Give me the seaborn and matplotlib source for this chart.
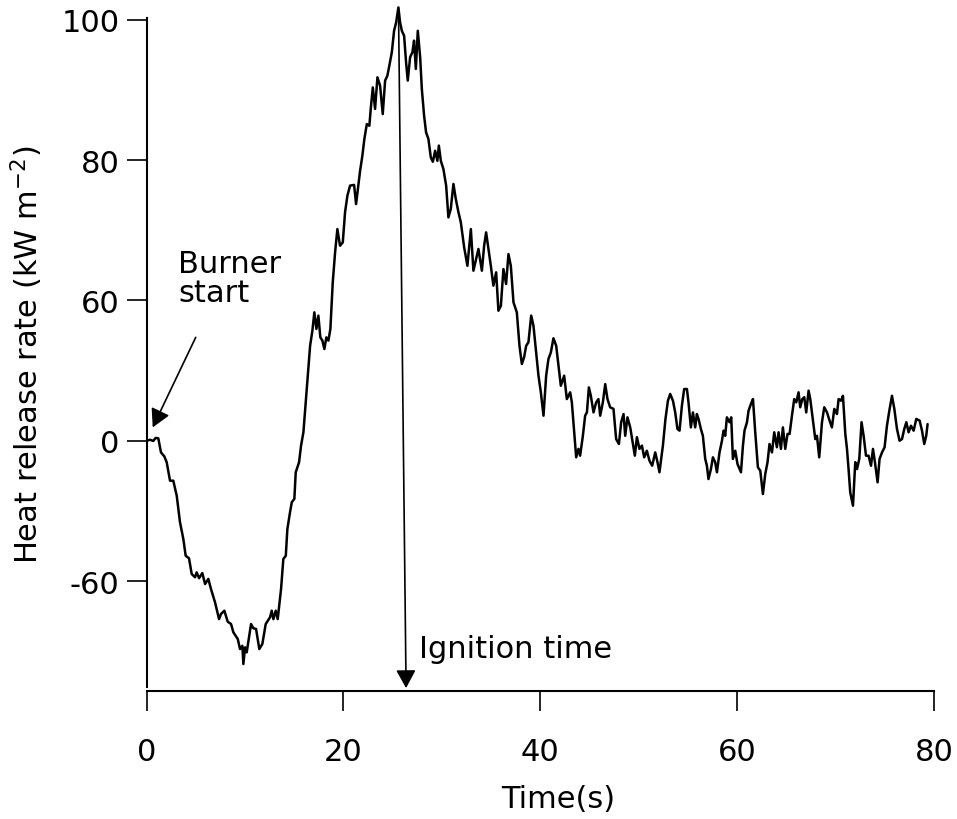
import matplotlib
matplotlib.use("Agg")
import matplotlib.pyplot as plt
import seaborn as sns
import pandas as pd

# ---- data (time in s, heat release rate on the plotted scale) ----
time_s = [0.02, 0.36, 0.69, 0.93, 1.20, 1.47, 1.81, 2.05, 2.39, 2.72, 3.07, 3.40, 3.74, 3.98,
          4.32, 4.59, 4.93, 5.10, 5.34, 5.67, 5.95, 6.28, 6.55, 6.96, 7.37, 7.57, 7.91, 8.25,
          8.59, 8.82, 9.27, 9.50, 9.74, 9.84, 10.01, 10.18, 10.62, 10.85, 11.13, 11.46, 11.77,
          12.11, 12.55, 12.72, 12.89, 13.13, 13.33, 13.67, 13.90, 14.15, 14.31, 14.58, 14.76,
          15.02, 15.16, 15.50, 15.70, 15.94, 16.28, 16.62, 16.85, 17.05, 17.26, 17.46, 17.66,
          17.87, 18.07, 18.27, 18.48, 18.68, 18.92, 19.16, 19.39, 19.66, 19.94, 20.17, 20.41,
          20.68, 21.09, 21.29, 21.52, 21.70, 21.93, 22.13, 22.38, 22.64, 22.78, 22.99, 23.22,
          23.46, 23.73, 24.00, 24.24, 24.47, 24.67, 24.92, 25.15, 25.36, 25.59, 25.76, 25.94,
          26.17, 26.37, 26.54, 26.78, 27.01, 27.18, 27.36, 27.56, 27.80, 27.97, 28.20, 28.40,
          28.64, 28.88, 29.09, 29.32, 29.55, 29.70, 29.90, 30.16, 30.44, 30.67, 30.91, 31.18,
          31.42, 31.69, 31.93, 32.27, 32.60, 32.95, 33.21, 33.49, 33.72, 34.07, 34.30, 34.50,
          34.74, 34.98, 35.24, 35.52, 35.75, 36.00, 36.26, 36.53, 36.77, 37.01, 37.28, 37.62,
          37.89, 38.13, 38.36, 38.57, 38.80, 39.08, 39.31, 39.55, 39.82, 40.06, 40.33, 40.60,
          40.83, 41.08, 41.34, 41.62, 41.85, 42.09, 42.43, 42.70, 43.04, 43.21, 43.45, 43.65,
          43.88, 44.05, 44.33, 44.56, 44.74, 44.94, 45.14, 45.41, 45.68, 45.91, 46.09, 46.36,
          46.60, 46.83, 47.10, 47.44, 47.71, 47.99, 48.22, 48.46, 48.63, 48.86, 49.14, 49.41,
          49.61, 49.82, 50.08, 50.33, 50.56, 50.83, 51.10, 51.37, 51.68, 51.91, 52.11, 52.46,
          52.72, 52.97, 53.20, 53.48, 53.71, 53.94, 54.15, 54.39, 54.62, 54.90, 55.06, 55.30,
          55.51, 55.74, 55.91, 56.08, 56.32, 56.52, 56.76, 56.93, 57.09, 57.34, 57.54, 57.77,
          57.95, 58.21, 58.46, 58.62, 58.79, 58.96, 59.23, 59.40, 59.57, 59.81, 60.04, 60.39,
          60.59, 60.75, 61.00, 61.16, 61.40, 61.61, 61.84, 62.11, 62.35, 62.62, 62.86, 63.09,
          63.29, 63.54, 63.77, 64.04, 64.21, 64.45, 64.65, 64.89, 65.12, 65.33, 65.57, 65.80,
          66.01, 66.24, 66.41, 66.62, 66.82, 67.02, 67.26, 67.43, 67.70, 67.94, 68.11, 68.34,
          68.62, 68.85, 69.13, 69.39, 69.63, 69.87, 70.14, 70.31, 70.55, 70.75, 70.99, 71.16,
          71.32, 71.49, 71.77, 72.00, 72.18, 72.41, 72.64, 72.85, 73.09, 73.35, 73.60, 73.80,
          74.00, 74.27, 74.47, 74.72, 74.98, 75.22, 75.46, 75.73, 75.97, 76.24, 76.50, 76.75,
          76.98, 77.19, 77.42, 77.66, 77.93, 78.20, 78.54, 78.78, 79.01, 79.21, 79.35]

heat_release = [0.0, 0.4, -0.1, 1.2, 1.0, -5.0, -6.7, -9.2, -17.1, -17.1, -23.5, -34.8, -42.0,
                -49.2, -50.3, -57.0, -58.4, -56.3, -58.8, -56.6, -61.3, -59.1, -63.4, -69.1,
                -76.3, -74.1, -72.7, -77.4, -78.4, -81.9, -84.8, -89.1, -87.7, -95.5, -88.4,
                -90.5, -78.4, -80.2, -80.5, -89.1, -86.9, -78.4, -75.5, -72.7, -76.3, -72.7,
                -76.3, -63.4, -50.6, -49.2, -37.8, -30.6, -26.3, -24.9, -13.5, -9.2, -2.1, 3.6,
                22.1, 40.6, 47.0, 54.9, 47.8, 53.5, 44.2, 42.8, 39.2, 44.2, 42.8, 47.8, 67.7,
                80.6, 90.5, 83.4, 84.8, 97.7, 104.8, 109.1, 109.4, 101.2, 109.1, 115.5, 121.9,
                129.0, 135.4, 134.7, 141.9, 151.1, 141.9, 155.4, 151.8, 139.7, 154.0, 156.1,
                160.4, 166.1, 175.3, 178.9, 185.3, 178.9, 175.3, 173.2, 161.8, 154.0, 164.0,
                166.1, 171.1, 159.0, 175.3, 164.0, 150.4, 139.0, 131.9, 129.0, 121.2, 119.3,
                124.0, 119.7, 126.2, 119.7, 116.2, 109.1, 95.5, 99.1, 109.8, 103.4, 97.7, 93.4,
                82.7, 74.8, 90.5, 72.7, 77.7, 82.0, 72.7, 83.4, 89.1, 82.0, 74.8, 66.3, 72.0,
                55.6, 57.7, 73.4, 67.0, 79.8, 74.8, 59.2, 54.9, 40.6, 32.8, 35.7, 40.6, 42.1,
                53.5, 49.2, 39.2, 27.8, 20.7, 10.7, 27.8, 34.9, 37.8, 43.8, 40.6, 32.1, 23.5,
                27.8, 17.8, 20.7, 16.4, 3.6, -7.1, -3.5, -6.4, 2.1, 10.7, 12.1, 22.8, 19.2,
                12.1, 16.4, 17.8, 10.7, 16.4, 24.2, 17.8, 14.3, 13.6, 0.7, -1.4, 7.9, 11.4, 2.1,
                10.0, 5.7, -1.4, -6.4, 1.5, -3.5, -2.1, -7.1, -4.3, -8.6, -10.7, -5.0, -9.2,
                -13.5, -2.1, 9.3, 17.1, 20.0, 17.1, 12.1, 5.0, 4.3, 15.0, 22.1, 22.1, 16.4, 5.7,
                12.1, 5.7, 11.4, 9.3, 5.0, 2.1, -7.8, -10.7, -16.4, -12.1, -7.1, -9.2, -13.5,
                -5.0, 0.0, 4.3, 2.1, 10.0, 7.9, 10.0, -7.8, -4.3, -10.0, -13.5, -2.1, 4.3, 7.9,
                12.8, 15.7, 17.8, 3.6, -11.4, -12.8, -22.8, -14.2, -9.2, -1.4, -5.0, 3.6, -2.8,
                3.6, -3.5, 5.7, -3.5, 2.9, 2.9, 10.7, 17.8, 16.4, 20.7, 14.3, 17.8, 18.6, 12.1,
                21.4, 17.8, 8.6, 0.7, 2.1, -7.1, 7.9, 14.3, 12.1, 8.6, 5.7, 13.6, 11.4, 17.8,
                17.1, 19.2, 2.9, -3.5, -12.1, -22.1, -27.8, -9.2, -12.1, -7.8, 7.9, 2.1, -6.4,
                -6.4, -10.7, -3.5, -9.2, -17.8, -7.8, -5.0, -2.8, 6.4, 12.8, 19.2, 13.6, 5.0,
                0.0, 0.7, 5.0, 7.9, 3.6, 6.4, 4.3, 9.3, 8.6, 4.3, -1.4, 2.1, 7.1]

x_ticks = [0, 20, 40, 60, 80]
x_tick_labels = ["0", "20", "40", "60", "80"]
y_ticks = [-60, 0, 60, 120, 180]
y_tick_labels = ["-60", "0", "60", "80", "100"]

burner_tip = (0.63, 5.7)
burner_tail = (5.0, 44.2)
ignition_top = (25.6, 184.6)
ignition_tip = (26.37, -105.8)

df = pd.DataFrame({"Time": time_s, "HRR": heat_release})

sns.set_style("ticks")
plt.rcParams["font.family"] = ["DejaVu Sans"]
plt.rcParams["mathtext.fontset"] = "dejavusans"
plt.rcParams["text.color"] = "black"
plt.rcParams["axes.labelcolor"] = "black"
plt.rcParams["xtick.color"] = "black"
plt.rcParams["ytick.color"] = "black"
plt.rcParams["axes.edgecolor"] = "black"

FS = 22
fig = plt.figure(figsize=(9.57, 8.2), dpi=100)
ax = fig.add_axes([146.5 / 957, 128 / 820, 787.5 / 957, 692 / 820])

sns.lineplot(data=df, x="Time", y="HRR", ax=ax, color="black", linewidth=1.8,
             estimator=None, sort=False)

ax.set_xlim(0, 80)
ax.set_ylim(-107.04, 188.9)
ax.set_xticks(x_ticks)
ax.set_xticklabels(x_tick_labels)
ax.set_yticks(y_ticks)
ax.set_yticklabels(y_tick_labels)

for s in ["top", "right"]:
    ax.spines[s].set_visible(False)
ax.spines["left"].set_linewidth(1.5)
ax.spines["bottom"].set_linewidth(1.5)
ax.spines["left"].set_bounds(-105.3, 180.7)

ax.tick_params(axis="x", direction="out", length=14.4, width=1.2, pad=19, labelsize=FS,
               colors="black")
ax.tick_params(axis="y", direction="out", length=14.4, width=1.2, pad=5, labelsize=FS,
               colors="black")

ax.set_xlabel("Time(s)", fontsize=FS, color="black")
ax.xaxis.label.set_va("baseline")
ax.xaxis.set_label_coords(0.5233, -0.1676)
ax.set_ylabel("")
fig.text(27 / 957, 1 - 355 / 820, "Heat release rate (kW m$^{\\mathregular{-2}}$)", rotation=90,
         ha="center", va="center", fontsize=FS, color="black")

arrow_kw = dict(arrowstyle="-|>,head_length=0.55,head_width=0.3", color="black",
                lw=1.2, shrinkA=0, shrinkB=0, mutation_scale=20)
ax.annotate("", xy=burner_tip, xytext=burner_tail, arrowprops=arrow_kw, annotation_clip=False)
ax.annotate("", xy=ignition_tip, xytext=ignition_top, arrowprops=arrow_kw, annotation_clip=False)

ax.text(3.2, 72.2, "Burner", fontsize=FS, ha="left", va="baseline", color="black")
ax.text(3.2, 59.8, "start", fontsize=FS, ha="left", va="baseline", color="black")
ax.text(27.72, -92.5, "Ignition time", fontsize=FS, ha="left", va="baseline", color="black")

fig.savefig("out.png", dpi=100, facecolor="white")
